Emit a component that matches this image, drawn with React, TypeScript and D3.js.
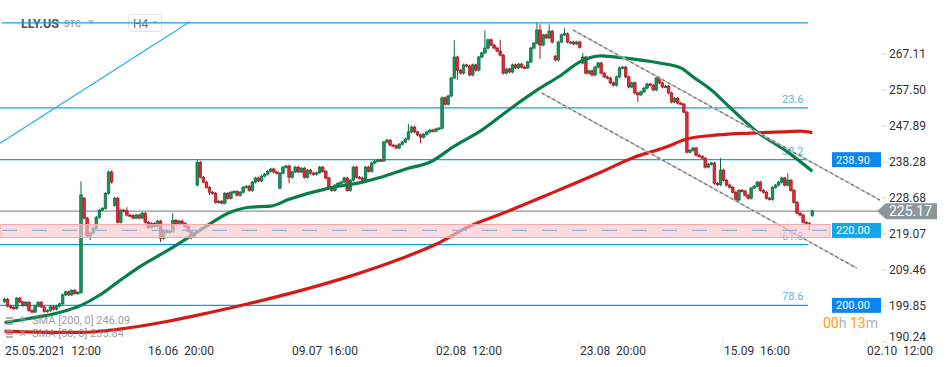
import React, { useEffect, useRef } from "react";
import * as d3 from "d3";

const W = 950;
const H = 367;

// H4 closes, 25.05.2021 12:00 -> 29.09.2021 12:00
const closes = [
  201.6, 199.8, 199.4, 199.2, 201.9, 200.9, 200.0, 200.8, 198.6, 198.2,
  199.8, 200.8, 199.6, 198.4, 198.6, 199.6, 199.0, 199.8, 200.4, 202.8,
  203.6, 202.8, 204.0, 203.2, 203.4, 229.5, 223.3, 218.5, 219.3, 220.6,
  223.5, 225.4, 225.9, 229.9, 235.6, 232.9, 228.6, 222.2, 225.4, 225.2,
  224.1, 224.0, 223.3, 224.1, 223.3, 224.6, 222.2, 220.8, 221.9, 221.1,
  222.5, 217.9, 220.0, 219.5, 219.8, 222.7, 221.9, 222.5, 221.9, 221.1,
  219.8, 218.4, 219.2, 238.2, 234.2, 232.9, 231.5, 230.2, 229.9, 227.5,
  227.8, 227.3, 229.9, 228.6, 230.2, 230.4, 229.4, 230.2, 231.5, 231.8,
  230.7, 232.9, 234.0, 233.2, 234.5, 235.0, 235.8, 236.4, 235.6, 235.3,
  235.3, 236.9, 237.2, 234.2, 235.6, 236.9, 235.6, 236.6, 234.2, 236.1,
  235.3, 235.0, 235.4, 236.9, 235.8, 234.0, 231.3, 230.7, 232.1, 232.6,
  232.9, 234.0, 230.7, 233.4, 236.9, 234.2, 234.0, 233.4, 236.9, 235.8,
  238.0, 238.5, 238.8, 238.6, 243.6, 244.1, 242.8, 242.6, 242.0, 243.0,
  243.6, 244.4, 246.3, 247.6, 246.3, 245.5, 244.9, 245.7, 246.3, 246.8,
  246.5, 247.1, 247.3, 255.4, 253.7, 255.9, 260.7, 266.3, 262.8, 262.0,
  264.2, 263.9, 261.5, 264.2, 262.8, 266.3, 267.4, 268.7, 270.9, 269.5,
  268.7, 267.9, 266.8, 262.0, 263.1, 262.3, 264.2, 263.4, 264.4, 263.6,
  263.4, 265.0, 268.7, 270.0, 273.5, 269.5, 272.2, 271.4, 273.2, 270.3,
  265.5, 270.3, 272.2, 272.5, 270.3, 270.3, 269.8, 270.3, 268.9, 266.3,
  262.0, 262.6, 261.5, 263.6, 264.7, 262.0, 261.0, 260.7, 259.4, 258.8,
  261.0, 263.4, 263.6, 261.0, 258.3, 259.4, 256.7, 256.2, 257.0, 258.0,
  259.1, 258.8, 257.5, 260.7, 259.4, 258.3, 258.5, 256.7, 254.3, 255.3,
  254.0, 253.8, 251.6, 240.9, 241.4, 242.0, 240.1, 239.8, 239.3, 236.9,
  237.7, 238.0, 232.6, 232.2, 236.1, 233.4, 232.1, 231.5, 230.2, 228.1,
  230.7, 230.5, 229.4, 228.6, 231.3, 231.8, 232.9, 230.7, 230.2, 228.6,
  228.3, 231.5, 232.1, 232.9, 234.0, 232.1, 233.4, 230.7, 227.5, 224.6,
  224.1, 222.2, 221.9, 221.6, 225.2,
];
const firstOpen = 201.0;

// bars that opened with a gap: [bar, open]
const gapOpens = [
  [25, 203.4], [26, 228.6], [36, 226.7], [63, 232.1], [90, 231.3],
  [180, 266.5], [189, 264.7], [264, 224.0],
];

// long wicks: [bar, high, low]
const wicks = [
  [25, 233.1, null], [28, null, 217.4], [40, 226.2, null], [51, null, 216.9],
  [55, 224.6, null], [61, null, 217.6], [63, 239.0, null], [67, null, 229.4],
  [93, null, 232.6], [132, 248.4, null], [136, null, 243.3], [147, 270.8, null],
  [148, null, 260.2], [157, 273.4, null], [162, 270.9, null], [174, 275.4, null],
  [175, 275.1, 265.8], [178, 275.0, null], [183, 274.0, null], [189, 267.4, null],
  [207, null, 254.3], [222, 253.3, null], [234, 239.3, null], [256, 235.3, null],
  [263, null, 220.0],
];

// SMA lines: [bar, value]
const sma50 = [
  [0, 195.4], [8, 196.5], [18, 198.1], [25, 200.0], [31, 202.7], [37, 206.2],
  [44, 210.2], [54, 215.0], [64, 220.1], [74, 224.9], [80, 226.2], [87, 226.5],
  [93, 228.3], [106, 231.3], [117, 232.9], [123, 234.2], [132, 236.6], [139, 238.2],
  [147, 242.5], [156, 246.8], [166, 252.9], [175, 258.0], [182, 261.5], [188, 265.0],
  [195, 266.6], [203, 266.0], [214, 264.7], [221, 263.4], [225, 261.0], [231, 257.5],
  [237, 252.9], [246, 246.3], [256, 240.9], [264, 235.8],
];
const sma200 = [
  [0, 193.1], [15, 192.8], [25, 192.8], [37, 193.6], [53, 195.7], [66, 197.9],
  [80, 200.5], [97, 204.0], [113, 207.8], [129, 212.3], [141, 216.3], [152, 221.1],
  [162, 224.3], [178, 229.7], [195, 235.6], [205, 239.3], [216, 242.2], [223, 244.4],
  [233, 245.5], [244, 246.0], [254, 246.3], [260, 246.5], [264, 246.1],
];

const fibLevels = [275.4, 252.7, 238.9, 216.2, 200.0];
const fibNames = ["", "23.6", "38.2", "61.8", "78.6"];
const fibEnd = 262.6;
const zoneLow = 218.1;
const zoneHigh = 221.6;
const zoneLevel = 220.0;
const lastPrice = 225.17;

const trendLine = [[-1.47, 243.3], [60.6, 275.7]];
const channelUpper = [[185.8, 273.5], [286.1, 228.1]];
const channelLower = [[175.6, 256.7], [278.6, 209.9]];

const priceTicks = [267.11, 257.5, 247.89, 238.28, 228.68, 219.07, 209.46, 199.85, 190.24];
const timeTicks = [0, 47, 94, 141, 188, 235, 282];
const timeLabels = [
  "25.05.2021  12:00", "16.06  20:00", "09.07  16:00", "02.08  12:00",
  "23.08  20:00", "15.09  16:00", "02.10  12:00",
];
const boxLabels = [
  { v: 238.9, text: "238.90", color: "#0a86f5" },
  { v: 220.0, text: "220.00", color: "#12a6ee" },
  { v: 200.0, text: "200.00", color: "#0a86f5" },
];

const FONT = "Roboto, sans-serif";

export default function App() {
  const svgRef = useRef<SVGSVGElement>(null);

  useEffect(() => {
    const svg = d3.select(svgRef.current)
      .attr("width", W)
      .attr("height", H);
    svg.selectAll("*").remove();
    svg.append("rect").attr("width", W).attr("height", H).attr("fill", "#fff");

    const xs = d3.scaleLinear().domain([0, 282]).range([4.5, 867.4]);
    const ys = d3.scaleLinear().domain([190.24, 267.11]).range([341.9, 54]);

    // candles
    const gapMap = new Map(gapOpens.map((d) => [d[0], d[1]]));
    const wickMap = new Map(wicks.map((d) => [d[0], d]));
    const bars = closes.map((c, i) => {
      const o = gapMap.has(i) ? gapMap.get(i) : i === 0 ? firstOpen : closes[i - 1];
      const w = wickMap.get(i);
      const hi = w && w[1] != null ? w[1] : Math.max(o, c) + 0.35;
      const lo = w && w[2] != null ? w[2] : Math.min(o, c) - 0.35;
      return { i, o, c, hi, lo };
    });

    // horizontal fib levels
    const lines = svg.append("g");
    fibLevels.forEach((lv, k) => {
      if (k === 0) return;
      lines.append("line")
        .attr("x1", 0).attr("x2", xs(fibEnd))
        .attr("y1", ys(lv)).attr("y2", ys(lv))
        .attr("stroke", "#0ea2ea").attr("stroke-width", 1.3);
    });
    lines.append("line")
      .attr("x1", xs(trendLine[0][0])).attr("y1", ys(trendLine[0][1]))
      .attr("x2", xs(trendLine[1][0])).attr("y2", ys(trendLine[1][1]))
      .attr("stroke", "#28aef0").attr("stroke-width", 1.2);
    lines.append("line")
      .attr("x1", 0).attr("x2", 878)
      .attr("y1", ys(lastPrice)).attr("y2", ys(lastPrice))
      .attr("stroke", "#8a949a").attr("stroke-width", 1.3);

    fibNames.forEach((n, k) => {
      if (!n) return;
      svg.append("text")
        .attr("x", 782).attr("y", ys(fibLevels[k]) - 5)
        .attr("font-family", FONT).attr("font-size", 11)
        .attr("fill", "#55b9f0").text(n);
    });

    const cg = svg.append("g");
    bars.forEach((b) => {
      const up = b.c >= b.o;
      const fill = up ? "#17945a" : "#dd2a35";
      const edge = up ? "#0b6a3d" : "#a3161f";
      const x = xs(b.i);
      cg.append("line")
        .attr("x1", x).attr("x2", x)
        .attr("y1", ys(b.hi)).attr("y2", ys(b.lo))
        .attr("stroke", edge).attr("stroke-width", 1);
      const top = ys(Math.max(b.o, b.c));
      const h = Math.max(1.2, ys(Math.min(b.o, b.c)) - top);
      cg.append("rect")
        .attr("x", x - 1.3).attr("y", top)
        .attr("width", 2.6).attr("height", h)
        .attr("fill", fill).attr("stroke", edge).attr("stroke-width", 0.7);
    });

    // moving averages
    const line = d3.line<number[]>()
      .x((d) => xs(d[0]))
      .y((d) => ys(d[1]))
      .curve(d3.curveMonotoneX);
    svg.append("path").attr("d", line(sma200))
      .attr("fill", "none").attr("stroke", "#d51a1a").attr("stroke-width", 3.2);
    svg.append("path").attr("d", line(sma50))
      .attr("fill", "none").attr("stroke", "#0a7e4a").attr("stroke-width", 3.2);

    // channel
    [channelUpper, channelLower].forEach((ch) => {
      svg.append("line")
        .attr("x1", xs(ch[0][0])).attr("y1", ys(ch[0][1]))
        .attr("x2", xs(ch[1][0])).attr("y2", ys(ch[1][1]))
        .attr("stroke", "#c4c4c4").attr("stroke-width", 1.6);
      svg.append("line")
        .attr("x1", xs(ch[0][0])).attr("y1", ys(ch[0][1]))
        .attr("x2", xs(ch[1][0])).attr("y2", ys(ch[1][1]))
        .attr("stroke", "#6f6f6f").attr("stroke-width", 1.2)
        .attr("stroke-dasharray", "3,3");
    });

    // support zone
    svg.append("rect")
      .attr("x", 0).attr("y", ys(zoneHigh))
      .attr("width", 830).attr("height", ys(zoneLow) - ys(zoneHigh))
      .attr("fill", "#f9c8cc").attr("fill-opacity", 0.65)
      .attr("stroke", "#f2a6ac").attr("stroke-width", 1);
    svg.append("line")
      .attr("x1", 2).attr("x2", 828)
      .attr("y1", ys(zoneLevel)).attr("y2", ys(zoneLevel))
      .attr("stroke", "#8fb6dc").attr("stroke-width", 1.2)
      .attr("stroke-dasharray", "15,15");

    // header
    svg.append("text").attr("x", 21).attr("y", 27.5)
      .attr("font-family", FONT).attr("font-size", 12.5).attr("font-weight", "bold")
      .attr("fill", "#4d5256").text("LLY.US");
    svg.append("text").attr("x", 64).attr("y", 27)
      .attr("font-family", FONT).attr("font-size", 9).attr("font-weight", "bold")
      .attr("fill", "#a4a9ae").text("STC");
    svg.append("path").attr("d", "M87,20L95,20L91,24Z").attr("fill", "#c5c9cc");
    svg.append("rect").attr("x", 128.5).attr("y", 14.5).attr("width", 33).attr("height", 17)
      .attr("rx", 3).attr("fill", "#fff").attr("stroke", "#e0e3e6");
    svg.append("text").attr("x", 133).attr("y", 27.5)
      .attr("font-family", FONT).attr("font-size", 12).attr("fill", "#6b7075").text("H4");
    svg.append("path").attr("d", "M152,21L158,21L155,24Z").attr("fill", "#c5c9cc");
    svg.append("line").attr("x1", 2).attr("x2", xs(fibEnd))
      .attr("y1", ys(fibLevels[0])).attr("y2", ys(fibLevels[0]))
      .attr("stroke", "#0ea2ea").attr("stroke-width", 1.3);

    // price axis
    priceTicks.forEach((p) => {
      const y = ys(p);
      svg.append("line").attr("x1", 882).attr("x2", 887).attr("y1", y).attr("y2", y)
        .attr("stroke", "#d5d8db");
      svg.append("text").attr("x", 889).attr("y", Math.min(y, 337))
        .attr("dy", "0.32em").attr("font-family", FONT).attr("font-size", 12)
        .attr("fill", "#333").text(p.toFixed(2));
    });

    boxLabels.forEach((b) => {
      const y = ys(b.v);
      svg.append("rect").attr("x", 832).attr("y", y - 7.5).attr("width", 49).attr("height", 15)
        .attr("fill", b.color);
      svg.append("text").attr("x", 836).attr("y", y).attr("dy", "0.35em")
        .attr("font-family", FONT).attr("font-size", 11).attr("fill", "#fff").text(b.text);
    });

    const ly = ys(lastPrice);
    svg.append("path")
      .attr("d", `M877,${ly}L886,${ly - 7.8}L937,${ly - 7.8}L937,${ly + 8.2}L886,${ly + 8.2}Z`)
      .attr("fill", "#8c969b");
    svg.append("text").attr("x", 889).attr("y", ly + 5.3)
      .attr("font-family", FONT).attr("font-size", 14).attr("fill", "#fff")
      .text(lastPrice.toFixed(2));

    const timer = svg.append("text").attr("x", 823).attr("y", 328)
      .attr("font-family", FONT).attr("font-size", 14).style("white-space", "pre");
    timer.append("tspan").attr("fill", "#ff9a00").text("00");
    timer.append("tspan").attr("fill", "#b4b4b4").text("h ");
    timer.append("tspan").attr("fill", "#ff9a00").text("13");
    timer.append("tspan").attr("fill", "#b4b4b4").text("m");

    // time axis
    timeTicks.forEach((t, k) => {
      const x = Math.round(xs(t)) - 1;
      svg.append("line").attr("x1", x).attr("x2", x).attr("y1", 340).attr("y2", 346)
        .attr("stroke", "#e2e4e6");
      svg.append("text").attr("x", x + 1).attr("y", 354.5)
        .attr("font-family", FONT).attr("font-size", 12).attr("fill", "#333")
        .style("white-space", "pre").text(timeLabels[k]);
    });

    // legend
    const legend = [
      { label: "SMA [200, 0] 246.09", y: 324 },
      { label: "SMA [50, 0] 235.84", y: 337 },
    ];
    legend.forEach((l, k) => {
      const g = svg.append("g").attr("opacity", 0.75);
      g.append("rect").attr("x", 6).attr("y", l.y - 7).attr("width", 7).attr("height", 2).attr("fill", "#999");
      g.append("rect").attr("x", 6).attr("y", l.y - 4).attr("width", 7).attr("height", 2).attr("fill", "#999");
      g.append("rect").attr("x", 6).attr("y", l.y - 1).attr("width", 7).attr("height", 2).attr("fill", "#999");
      if (k === 0) {
        g.append("path").attr("d", `M20,${l.y - 5}L25,${l.y - 5}M22.5,${l.y - 8}L22.5,${l.y - 1}`)
          .attr("stroke", "#999").attr("stroke-width", 1.4);
      } else {
        g.append("path").attr("d", `M20,${l.y - 7}L25,${l.y - 1}M25,${l.y - 7}L20,${l.y - 1}`)
          .attr("stroke", "#999").attr("stroke-width", 1.4);
      }
      g.append("text").attr("x", 32).attr("y", l.y)
        .attr("font-family", FONT).attr("font-size", 11).attr("fill", "#7c7c7c")
        .style("white-space", "pre").text(l.label);
    });
  }, []);

  return (
    <svg ref={svgRef} style={{ position: "absolute", left: 0, top: 0 }} />
  );
}
